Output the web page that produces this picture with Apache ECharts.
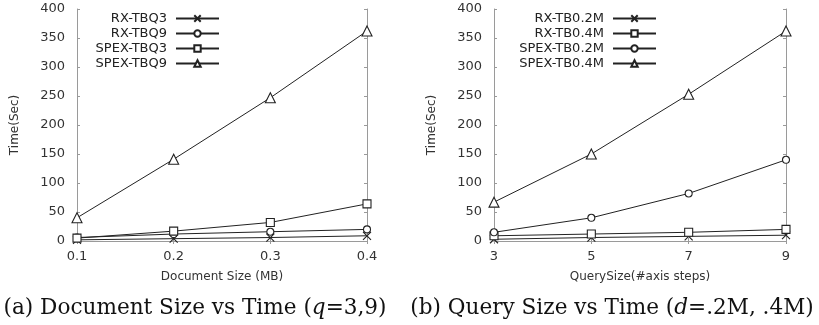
<!DOCTYPE html>
<html>
<head>
<meta charset="utf-8">
<script src="https://cdn.jsdelivr.net/npm/echarts@6/dist/echarts.min.js"></script>
<style>
  html, body { margin: 0; background: #fff; }
  #chart { width: 819px; height: 325px; }
</style>
</head>
<body>
<div id="chart"></div>
<script>
// (a) document size vs time
const docSizes = ['0.1', '0.2', '0.3', '0.4']
const rxTBQ3 = [2, 4, 6, 9]
const rxTBQ9 = [6, 12, 16, 20]
const spexTBQ3 = [5, 17, 32, 64]
const spexTBQ9 = [40, 141, 247, 362]

// (b) query size vs time
const querySizes = ['3', '5', '7', '9']
const rxTB02 = [3, 6, 8, 10]
const rxTB04 = [9, 12, 15, 20]
const spexTB02 = [15, 40, 82, 140]
const spexTB04 = [67, 150, 253, 362]

const yMin = 0
const yMax = 400
const yStep = 50

const ink = '#222'
const frame = '#9a9a9a'

const CROSS = 'path://M0,0L10,10M10,0L0,10'

// hollow markers: white fill + thin dark border (the "empty" symbols draw 2px borders)
function mkSeries (name, data, symbol, size, idx) {
  return {
    name: name,
    type: 'line',
    data: data,
    xAxisIndex: idx,
    yAxisIndex: idx,
    symbol: symbol,
    symbolSize: size,
    showAllSymbol: true,
    animation: false,
    lineStyle: { color: ink, width: 1 },
    itemStyle: { color: symbol === CROSS ? 'none' : '#fff', borderColor: ink, borderWidth: 1.1 }
  }
}

function xAx (cats, gridIndex, name, top) {
  return {
    type: 'category',
    gridIndex: gridIndex,
    data: cats,
    boundaryGap: false,
    position: top ? 'top' : 'bottom',
    name: top ? '' : name,
    nameLocation: 'middle',
    nameGap: 30,
    nameTextStyle: { fontSize: 12, color: '#333', fontFamily: 'DejaVu Sans' },
    axisLine: { show: true, lineStyle: { color: frame } },
    axisTick: { show: true, inside: true, length: 3, alignWithLabel: true, lineStyle: { color: frame } },
    axisLabel: { show: !top, margin: 9, fontSize: 13, color: '#333', fontFamily: 'DejaVu Sans' },
    splitLine: { show: false }
  }
}

function yAx (gridIndex, right) {
  return {
    type: 'value',
    gridIndex: gridIndex,
    min: yMin,
    max: yMax,
    interval: yStep,
    position: right ? 'right' : 'left',
    name: right ? '' : 'Time(Sec)',
    nameLocation: 'middle',
    nameGap: 56,
    nameTextStyle: { fontSize: 12, color: '#333', fontFamily: 'DejaVu Sans' },
    axisLine: { show: true, lineStyle: { color: frame } },
    axisTick: { show: true, inside: true, length: 3, lineStyle: { color: frame } },
    axisLabel: { show: !right, margin: 12, fontSize: 13, color: '#333', fontFamily: 'DejaVu Sans' },
    splitLine: { show: false }
  }
}

const legendBase = {
  orient: 'vertical',
  align: 'right',
  top: 12,
  padding: 0,
  itemWidth: 43,
  itemHeight: 8,
  itemGap: 2,
  textStyle: { fontSize: 13, lineHeight: 13, color: '#222', fontFamily: 'DejaVu Sans', padding: [0, 4, 0, 0] }
}

const option = {
  backgroundColor: '#fff',
  animation: false,
  grid: [
    { left: 77, top: 9, width: 290, height: 232 },
    { left: 494, top: 9, width: 292, height: 232 }
  ],
  xAxis: [
    xAx(docSizes, 0, 'Document Size (MB)', false),
    xAx(querySizes, 1, 'QuerySize(#axis steps)', false),
    xAx(docSizes, 0, '', true),
    xAx(querySizes, 1, '', true)
  ],
  yAxis: [
    yAx(0, false),
    yAx(1, false),
    yAx(0, true),
    yAx(1, true)
  ],
  legend: [
    Object.assign({}, legendBase, {
      right: 819 - 220,
      data: ['RX-TBQ3', 'RX-TBQ9', 'SPEX-TBQ3', 'SPEX-TBQ9']
    }),
    Object.assign({}, legendBase, {
      right: 819 - 657,
      data: ['RX-TB0.2M', 'RX-TB0.4M', 'SPEX-TB0.2M', 'SPEX-TB0.4M']
    })
  ],
  series: [
    mkSeries('RX-TBQ3', rxTBQ3, CROSS, 8, 0),
    mkSeries('RX-TBQ9', rxTBQ9, 'circle', 7, 0),
    mkSeries('SPEX-TBQ3', spexTBQ3, 'rect', 8, 0),
    mkSeries('SPEX-TBQ9', spexTBQ9, 'triangle', 10, 0),
    mkSeries('RX-TB0.2M', rxTB02, CROSS, 8, 1),
    mkSeries('RX-TB0.4M', rxTB04, 'rect', 8, 1),
    mkSeries('SPEX-TB0.2M', spexTB02, 'circle', 7, 1),
    mkSeries('SPEX-TB0.4M', spexTB04, 'triangle', 10, 1)
  ],
  graphic: [
    {
      type: 'text',
      x: 195,
      y: 308,
      style: {
        text: '(a) Document Size vs Time ({i|q}=3,9)',
        font: '21.6px "DejaVu Serif"',
        fill: '#111',
        align: 'center',
        verticalAlign: 'middle',
        rich: { i: { fontStyle: 'italic', fontSize: 21.6, fontFamily: 'DejaVu Serif' } }
      }
    },
    {
      type: 'text',
      x: 612,
      y: 308,
      style: {
        text: '(b) Query Size vs Time ({i|d}=.2M, .4M)',
        font: '21.6px "DejaVu Serif"',
        fill: '#111',
        align: 'center',
        verticalAlign: 'middle',
        rich: { i: { fontStyle: 'italic', fontSize: 21.6, fontFamily: 'DejaVu Serif' } }
      }
    }
  ]
}

const chart = echarts.init(document.getElementById('chart'))
chart.setOption(option)
</script>
</body>
</html>
